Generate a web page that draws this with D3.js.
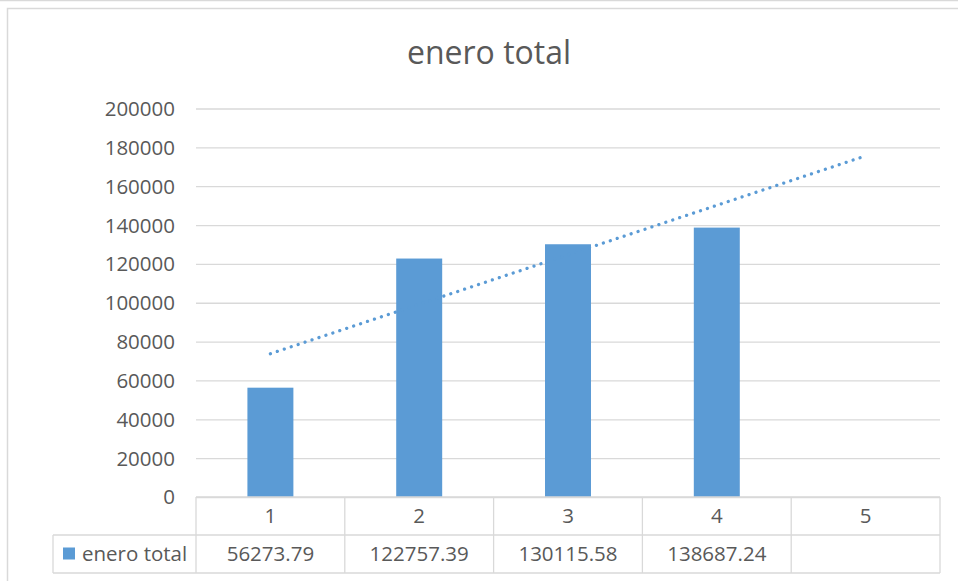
<!DOCTYPE html>
<html>
<head>
<meta charset="utf-8">
<script src="https://cdn.jsdelivr.net/npm/d3@7/dist/d3.min.js"></script>
<style>
  html, body { margin: 0; padding: 0; background: #ffffff; }
  svg { display: block; font-family: "Open Sans", "Noto Sans", sans-serif; }
</style>
</head>
<body>
<svg id="chart" width="958" height="581"></svg>
<script>
const title = "enero total";
const seriesName = "enero total";
const categories = ["1", "2", "3", "4", "5"];
const values = [56273.79, 122757.39, 130115.58, 138687.24, null];
const valueLabels = ["56273.79", "122757.39", "130115.58", "138687.24", ""];
const yTicks = [0, 20000, 40000, 60000, 80000, 100000, 120000, 140000, 160000, 180000, 200000];

(function () {
const svg = d3.select("#chart");
const W = 958;
const pLeft = 196, pRight = 940, pTop = 108.5, pBottom = 497;
const rowH = 38;
const tableLeft = 53;
const gridColor = "#d9d9d9";
const textColor = "#595959";
const barColor = "#5b9bd5";

// outer frame
svg.append("line").attr("x1", 0).attr("x2", W).attr("y1", 0.5).attr("y2", 0.5)
  .attr("stroke", gridColor).attr("stroke-width", 1.5);
svg.append("rect").attr("x", 7.5).attr("y", 8.5).attr("width", 1000).attr("height", 1000)
  .attr("fill", "#fff").attr("stroke", gridColor).attr("stroke-width", 1.5);

// title
svg.append("text").attr("x", 489).attr("y", 64).attr("text-anchor", "middle")
  .attr("font-size", 32).attr("fill", textColor).text(title);

const x = d3.scaleBand().domain(categories).range([pLeft, pRight])
  .paddingInner(0.691).paddingOuter(0.3455);
const y = d3.scaleLinear().domain([0, 200000]).range([pBottom, pTop]);

// y axis with gridlines
const yAxis = d3.axisLeft(y).tickValues(yTicks).tickFormat(d3.format("d"))
  .tickSize(-(pRight - pLeft)).tickPadding(21);
const ga = svg.append("g").attr("transform", `translate(${pLeft},0)`).call(yAxis);
ga.select(".domain").remove();
ga.selectAll(".tick line").attr("stroke", gridColor).attr("stroke-width", 1.3);
ga.selectAll(".tick text").attr("font-size", 20.5).attr("fill", textColor)
  .attr("font-family", "'Open Sans', sans-serif").attr("dy", "0.34em");

// bars
svg.append("g").selectAll("rect")
  .data(categories.map((c, i) => ({ c, v: values[i] })).filter(d => d.v != null))
  .join("rect")
  .attr("x", d => x(d.c)).attr("width", x.bandwidth())
  .attr("y", d => y(d.v)).attr("height", d => y(0) - y(d.v))
  .attr("fill", barColor);

// linear trendline (least squares over the plotted points)
const pts = values.map((v, i) => ({ i: i + 1, v })).filter(d => d.v != null);
const mx = d3.mean(pts, d => d.i), my = d3.mean(pts, d => d.v);
const slope = d3.sum(pts, d => (d.i - mx) * (d.v - my)) / d3.sum(pts, d => (d.i - mx) ** 2);
const icpt = my - slope * mx;
const cx = c => x(c) + x.bandwidth() / 2;
const trend = [categories[0], categories[categories.length - 1]]
  .map(c => ({ c, v: icpt + slope * (+c) }));
svg.append("path")
  .attr("d", d3.line().x(d => cx(d.c)).y(d => y(d.v))(trend))
  .attr("fill", "none").attr("stroke", barColor).attr("stroke-width", 3.3)
  .attr("stroke-linecap", "round").attr("stroke-dasharray", "0.01 7.3");

// data table
const step = x.step();
const tg = svg.append("g");
const bounds = categories.map((c, i) => pLeft + i * step).concat([pRight]);
bounds.forEach(bx => {
  tg.append("line").attr("x1", bx).attr("x2", bx).attr("y1", pBottom).attr("y2", pBottom + 2 * rowH)
    .attr("stroke", gridColor).attr("stroke-width", 1.3);
});
tg.append("line").attr("x1", pLeft).attr("x2", pRight).attr("y1", pBottom).attr("y2", pBottom)
  .attr("stroke", gridColor).attr("stroke-width", 1.3);
[pBottom + rowH, pBottom + 2 * rowH].forEach(ly => {
  tg.append("line").attr("x1", tableLeft).attr("x2", pRight).attr("y1", ly).attr("y2", ly)
    .attr("stroke", gridColor).attr("stroke-width", 1.3);
});
tg.append("line").attr("x1", tableLeft).attr("x2", tableLeft).attr("y1", pBottom + rowH).attr("y2", pBottom + 2 * rowH)
  .attr("stroke", gridColor).attr("stroke-width", 1.3);

tg.selectAll("text.cat").data(categories).join("text").attr("class", "cat")
  .attr("x", d => cx(d)).attr("y", pBottom + rowH / 2).attr("dy", "0.36em")
  .attr("text-anchor", "middle").attr("font-size", 20.5).attr("fill", textColor).text(d => d);
tg.selectAll("text.val").data(categories).join("text").attr("class", "val")
  .attr("x", d => cx(d)).attr("y", pBottom + rowH * 1.5).attr("dy", "0.36em")
  .attr("text-anchor", "middle").attr("font-size", 20.5).attr("fill", textColor)
  .text((d, i) => valueLabels[i]);

// legend key in table
tg.append("rect").attr("x", 63).attr("y", 547.5).attr("width", 12).attr("height", 12).attr("fill", barColor);
tg.append("text").attr("x", 82).attr("y", pBottom + rowH * 1.5).attr("dy", "0.36em")
  .attr("font-size", 20.5).attr("fill", textColor).text(seriesName);
})();
</script>
</body>
</html>
